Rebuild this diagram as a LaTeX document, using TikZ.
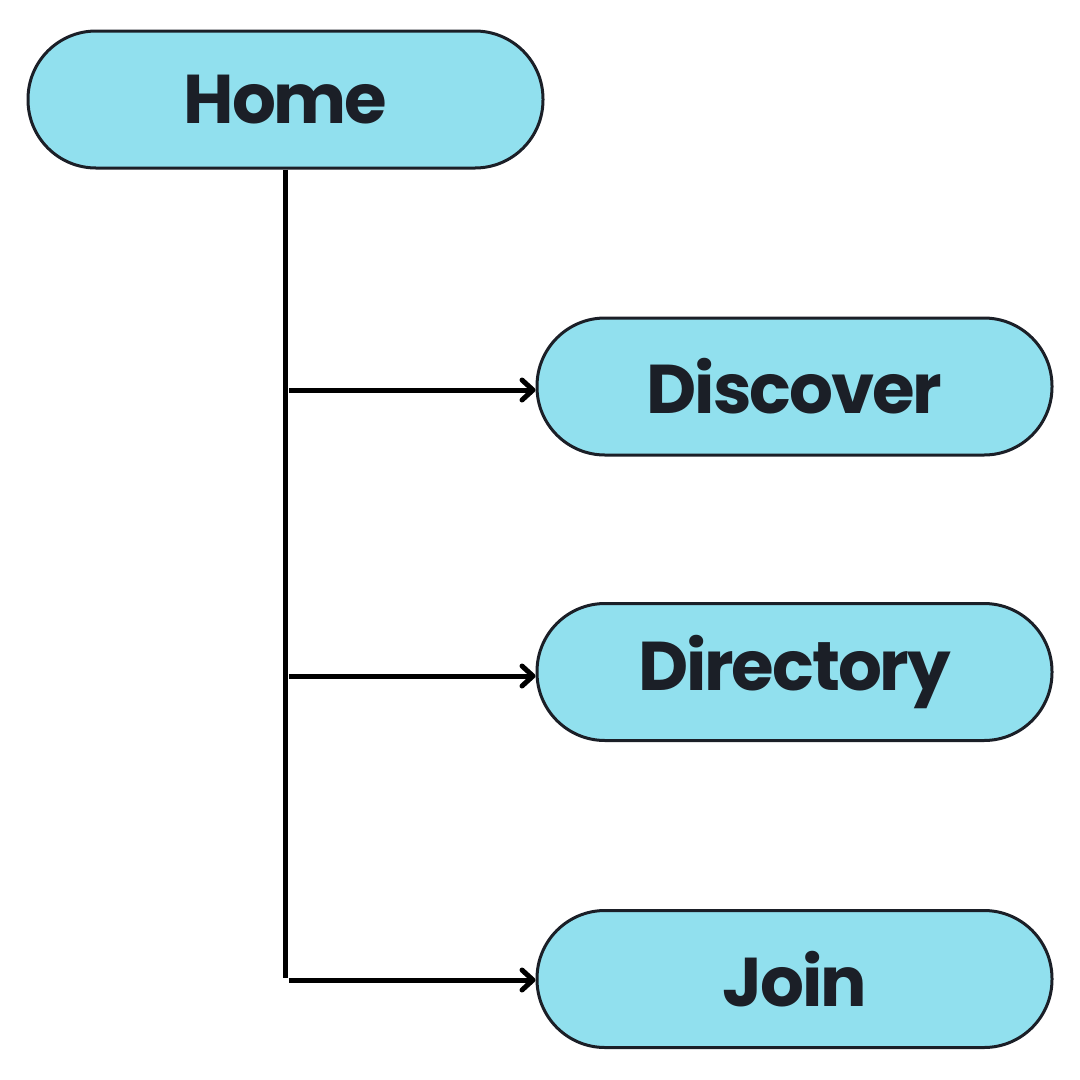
\documentclass[tikz,border=0pt]{standalone}
\usepackage{fontspec}
\setmainfont{Poppins}[BoldFont={* Bold}]
\newfontfamily\pillfont{Poppins Bold}[LetterSpace=-3]
\usetikzlibrary{arrows.meta}
\definecolor{pillfill}{HTML}{91E0EE}
\definecolor{ink}{HTML}{1B1F27}
\tikzset{
  pill/.style={draw=ink, line width=3pt, fill=pillfill, rounded corners=68pt,
    minimum width=515pt, minimum height=137pt, inner sep=0pt,
    text=ink, font=\fontsize{69}{76}\pillfont},
  trunk/.style={line width=5.5pt, black},
  branch/.style={line width=5pt, black, -{Straight Barb[round,length=11pt,width=20pt]}}
}
\begin{document}
\begin{tikzpicture}[x=1pt,y=-1pt]
  \useasboundingbox (0,0) rectangle (1080,1080);
  \node[pill] (home) at (285.5,99.5) {\raisebox{-3pt}{Home}};
  \node[pill] (disc) at (794.5,386.5) {Discover};
  \node[pill] (dir) at (794.5,672) {Directory};
  \node[pill] (join) at (794.5,979) {Join};

  % vertical trunk and its branch points
  \coordinate (tend) at (285.5,978);
  \coordinate (b1) at (289,390);
  \coordinate (b2) at (289,676);
  \coordinate (b3) at (289,980);
  \draw[trunk] (home.south) -- (tend);
  \draw[branch] (b1) -- (b1 -| disc.west);
  \draw[branch] (b2) -- (b2 -| dir.west);
  \draw[branch] (b3) -- (b3 -| join.west);
\end{tikzpicture}
\end{document}
